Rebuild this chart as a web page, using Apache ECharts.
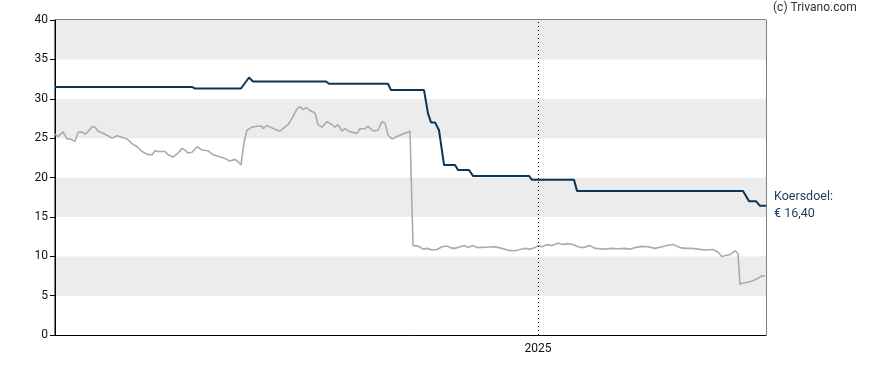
<!DOCTYPE html>
<html>
<head>
<meta charset="utf-8">
<script src="https://cdn.jsdelivr.net/npm/echarts@6/dist/echarts.min.js"></script>
<style>
html,body{margin:0;padding:0;background:#fff;}
#chart{width:888px;height:370px;}
</style>
</head>
<body>
<div id="chart"></div>
<script>
// x values are days since 2023-09-06; 2025-01-01 is day 483, last day is 711
const startDate = '2023-09-06';
const yearMarkDay = 483;
const yearMarkLabel = '2025';
const lastDay = 711;

// Share price (grey)
const priceDay = [0,3,8,12,15,20,23,27,30,33,37,40,43,50,57,62,67,72,77,82,87,93,97,100,103,110,113,118,123,127,130,133,137,142,147,153,158,163,170,175,180,183,186,189,192,197,202,207,208,212,217,222,225,228,233,237,242,245,248,251,255,260,263,267,272,277,280,283,287,290,295,302,305,310,313,318,323,327,330,333,337,342,347,352,355,358,363,368,372,377,382,387,392,395,400,405,410,413,418,422,430,440,447,453,460,465,470,475,480,483,487,492,497,503,508,513,518,523,528,535,540,545,550,557,563,570,575,580,587,593,600,607,613,618,625,630,637,643,650,658,663,667,670,675,680,683,685,688,693,698,703,707,710];
const priceValue = [25.5,25.2,25.8,24.9,24.9,24.6,25.7,25.8,25.5,25.8,26.45,26.4,25.9,25.5,25.0,25.3,25.1,24.9,24.3,23.9,23.3,22.9,22.9,23.4,23.3,23.3,22.9,22.6,23.1,23.7,23.5,23.1,23.2,23.9,23.5,23.4,22.9,22.7,22.4,22.1,22.3,22.0,21.6,24.5,26.0,26.4,26.5,26.5,26.2,26.6,26.3,26.0,25.9,26.2,26.7,27.5,28.7,29.0,28.6,28.9,28.5,28.2,26.7,26.4,27.1,26.7,26.4,26.7,25.9,26.2,25.8,25.6,26.2,26.2,26.5,25.9,26.0,27.1,26.9,25.4,24.9,25.2,25.5,25.7,25.9,11.35,11.3,10.9,11.0,10.8,10.85,11.2,11.3,11.1,11.0,11.2,11.35,11.1,11.35,11.1,11.15,11.2,11.0,10.75,10.7,10.85,11.0,10.9,11.1,11.35,11.2,11.5,11.35,11.64,11.5,11.6,11.5,11.2,11.1,11.35,11.0,10.95,10.9,11.0,10.95,11.0,10.9,11.1,11.25,11.2,11.0,11.2,11.4,11.5,11.1,11.0,11.0,10.9,10.8,10.85,10.5,9.95,10.1,10.2,10.67,10.35,6.43,6.6,6.69,6.9,7.2,7.53,7.45];

// Price target (navy)
const targetDay = [0,137,140,186,194,198,271,274,333,336,369,373,376,380,384,389,400,403,414,418,474,477,519,522,688,694,701,705,711];
const targetValue = [31.5,31.5,31.3,31.3,32.7,32.2,32.2,31.9,31.9,31.1,31.1,28.15,27.0,27.0,26.0,21.6,21.6,20.95,20.95,20.2,20.2,19.7,19.7,18.3,18.3,17.0,17.0,16.4,16.4];

const yTicks = [0,5,10,15,20,25,30,35,40];
const targetLabel = 'Koersdoel:';
const copyright = '(c) Trivano.com';

const zip = (xs, ys) => xs.map((x, i) => [x, ys[i]]);
const fmtEuro = v => '€ ' + v.toFixed(2).replace('.', ',');

const chart = echarts.init(document.getElementById('chart'), null, {renderer: 'canvas'});
chart.setOption({
  animation: false,
  backgroundColor: '#fff',
  textStyle: {fontFamily: 'Roboto'},
  grid: {left: 55, right: 122, top: 20, bottom: 35, show: true, borderColor: '#000', borderWidth: 1, backgroundColor: 'transparent'},
  graphic: [{
    type: 'text', left: 773, top: 2,
    style: {text: copyright, font: '12px Roboto', fill: '#333'}
  }],
  xAxis: {
    type: 'value', min: 0, max: lastDay, interval: yearMarkDay,
    axisLine: {show: true, lineStyle: {color: '#000', width: 1}},
    axisTick: {show: false},
    splitLine: {show: false},
    axisLabel: {
      margin: 8, fontSize: 12, color: '#111', fontFamily: 'Roboto',
      showMinLabel: true, showMaxLabel: false,
      formatter: v => (v === yearMarkDay ? yearMarkLabel : '')
    }
  },
  yAxis: {
    type: 'value', min: yTicks[0], max: yTicks[yTicks.length - 1], interval: yTicks[1] - yTicks[0],
    axisLine: {show: true, lineStyle: {color: '#000', width: 1}},
    axisTick: {show: true, length: 5, lineStyle: {color: '#000'}},
    splitLine: {show: false},
    splitArea: {show: true, areaStyle: {color: ['#ffffff', '#ececec']}},
    axisLabel: {margin: 7, fontSize: 12, color: '#111', fontFamily: 'Roboto'}
  },
  series: [
    {
      type: 'line', name: 'Koers', data: zip(priceDay, priceValue),
      symbol: 'none', lineStyle: {color: '#ababab', width: 1.6}, z: 2,
      markLine: {
        silent: true, symbol: 'none', label: {show: false},
        lineStyle: {color: '#000', type: [1, 3], width: 1},
        data: [{xAxis: yearMarkDay}]
      }
    },
    {
      type: 'line', name: 'Koersdoel', data: zip(targetDay, targetValue),
      symbol: 'none', lineStyle: {color: '#0c3658', width: 2}, z: 3,
      endLabel: {
        show: true, distance: 8, color: '#1a3c5e', fontSize: 12.5, lineHeight: 17,
        fontFamily: 'Roboto', align: 'left',
        formatter: p => targetLabel + '\n' + fmtEuro(p.value[1])
      }
    }
  ]
});
</script>
</body>
</html>
